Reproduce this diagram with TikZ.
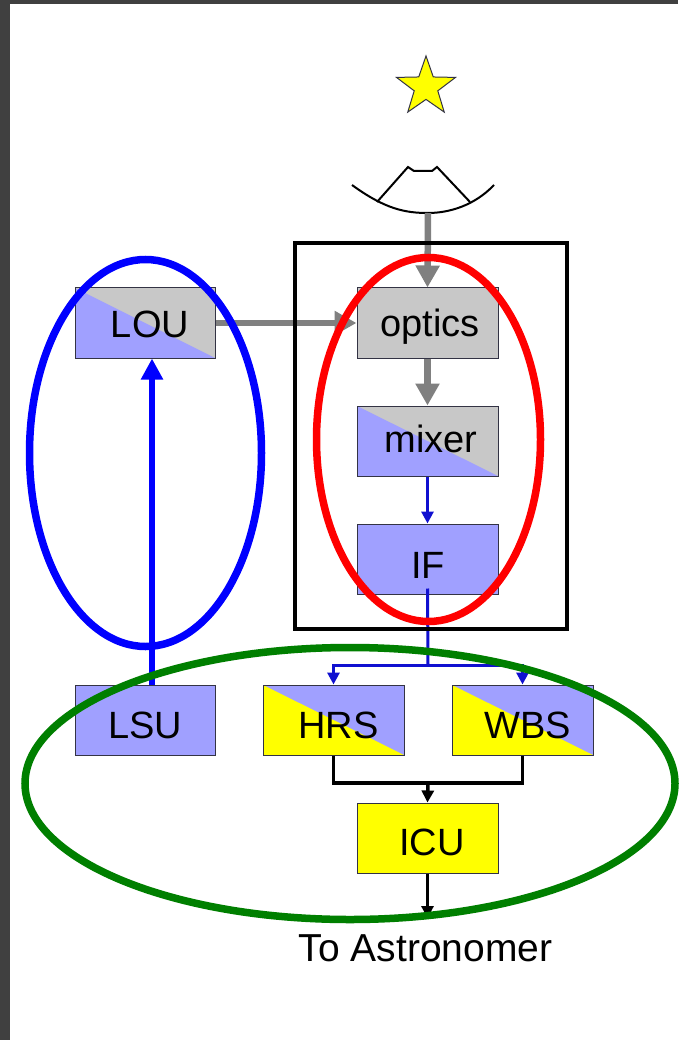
\documentclass[tikz,border=0pt]{standalone}
\usepackage{fontspec}
\setmainfont{Liberation Sans}
\usetikzlibrary{positioning,shapes.geometric,arrows.meta}

\definecolor{lilac}{HTML}{A0A0FF}
\definecolor{lightgrey}{HTML}{C8C8C8}
\definecolor{unityellow}{HTML}{FFFF00}
\definecolor{darkframe}{HTML}{404040}
\definecolor{boxline}{HTML}{333344}
\definecolor{beamgrey}{HTML}{808080}
\definecolor{ifblue}{HTML}{1010D0}
\definecolor{ringblue}{HTML}{0000FF}
\definecolor{ringred}{HTML}{FF0000}
\definecolor{ringgreen}{HTML}{007F00}

% text inside a box, moved by hand: #1 twice the shift right, #2 raise
\newcommand{\boxlabel}[3]{\hspace*{#1}\raisebox{#2}{#3}}

\begin{document}
\begin{tikzpicture}[
   x=1pt, y=-1pt,
   every node/.append style={font=\fontsize{38}{38}\selectfont},
   unit/.style={draw=boxline, line width=1pt, minimum width=141pt, minimum height=70pt,
                inner sep=0pt, text height=28pt, text depth=0pt},
   plainunit/.style={unit, fill=#1},
   splitunit/.style 2 args={unit, fill=#2, path picture={
        \fill[#1] (path picture bounding box.north west)
                  -- (path picture bounding box.south east)
                  -- (path picture bounding box.south west) -- cycle;}},
   beam/.style={draw=beamgrey, line width=6.5pt, -{Triangle[length=22pt,width=23pt]}},
   ifline/.style={draw=ifblue, line width=3pt},
   ifarrow/.style={ifline, -{Triangle[length=12pt,width=12pt]}},
   outline/.style={draw=black, line width=3.5pt},
   outarrow/.style={outline, -{Triangle[length=12pt,width=12pt]}},
   ring/.style={ellipse, draw=#1, line width=7.5pt, inner sep=0pt}
]
\useasboundingbox (0,0) rectangle (678,1040);
\fill[darkframe] (0,0) rectangle (678,1040);
\fill[white] (10,4) rectangle (678,1040);

% the units
\node[plainunit=lightgrey] (optics) at (427.5,323) {\boxlabel{5pt}{1pt}{optics}};
\node[splitunit={lilac}{lightgrey}, below=47pt of optics] (mixer) {\boxlabel{7pt}{3pt}{mixer}};
\node[plainunit=lilac, below=47pt of mixer] (IF) {\boxlabel{1pt}{-5pt}{IF}};
\node[splitunit={lilac}{lightgrey}, left=141pt of optics, minimum width=140pt] (LOU) {\boxlabel{10pt}{0pt}{LOU}};
\node[splitunit={unityellow}{lilac}, below=90pt of IF, xshift=-94pt] (HRS) {\boxlabel{10pt}{-4pt}{HRS}};
\node[splitunit={unityellow}{lilac}, below=90pt of IF, xshift=95pt] (WBS) {\boxlabel{10pt}{-4pt}{WBS}};
\node[plainunit=lilac, left=47pt of HRS, minimum width=140pt] (LSU) {\boxlabel{0pt}{-4pt}{LSU}};
\node[plainunit=unityellow, below=208pt of IF] (ICU) {\boxlabel{9pt}{-3pt}{ICU}};
\node[below=44pt of ICU, inner sep=15pt, xshift=-2pt, yshift=-2pt, font=\fontsize{39}{39}\selectfont] (astro) {To Astronomer};

% star and dish
\node[star, star points=5, star point ratio=2.5, draw=boxline, line width=1pt, fill=unityellow,
      minimum size=62pt, inner sep=0pt] (target) at (426,87) {};
\coordinate (dishleft) at (352,185);
\coordinate (dishright) at (494,185);
\coordinate (dishfoot) at (428,213);
\draw[line width=2pt] (dishleft) .. controls (385,209) and (405,213) .. (dishfoot)
      .. controls (450,213) and (475,205) .. (dishright);
\draw[line width=2pt] (377,202) -- (408,167) -- (414,171) -- (432,171) -- (437,167) -- (470,202);

% connectors
\draw[beam] (dishfoot) -- (optics.north);
\draw[beam] (LOU.east) -- (optics.west);
\draw[beam] (optics.south) -- (mixer.north);
\draw[ifarrow] (mixer.south) -- (IF.north);
\coordinate (iffork) at (428,665);
\draw[ifline] ([yshift=6pt]IF.south) -- (iffork);
\draw[ifarrow] (iffork) -| (HRS.north);
\draw[ifarrow] (iffork) -| (WBS.north);
\draw[draw=ringblue, line width=6pt, -{Triangle[length=21pt,width=21pt]}]
      ([xshift=7pt]LSU.north) -- ([xshift=7pt]LOU.south);
\coordinate (icufork) at (428,783);
\draw[outline] (HRS.south) |- (icufork);
\draw[outline] (WBS.south) |- (icufork);
\draw[outarrow] (icufork) -- (ICU.north);
\coordinate (icuout) at (427.5,918);
\draw[outarrow] (ICU.south) -- (icuout);

% receiver frame and rings
\node[draw=black, line width=4pt, minimum width=272pt, minimum height=386pt, inner sep=0pt] (frontend) at (431,436) {};
\node[ring=ringblue, minimum width=232pt, minimum height=387pt] (lochain) at (145.5,453) {};
\node[ring=ringred, minimum width=224pt, minimum height=364pt] (rxchain) at (428.5,439.5) {};
\node[ring=ringgreen, minimum width=650pt, minimum height=272pt] (backend) at (350,783.5) {};
\end{tikzpicture}
\end{document}
